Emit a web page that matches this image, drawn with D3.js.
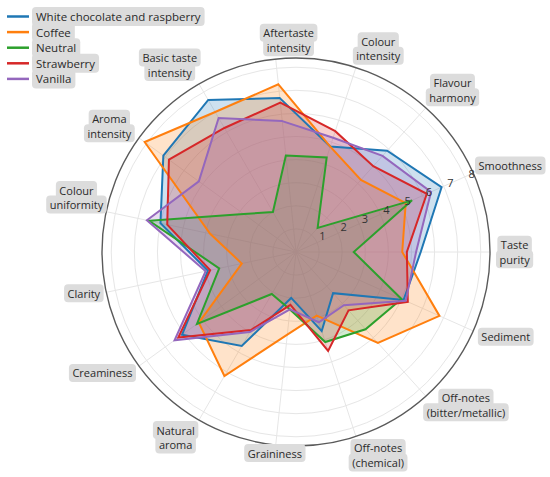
<!DOCTYPE html>
<html><head><meta charset="utf-8">
<script src="https://cdn.jsdelivr.net/npm/d3@7"></script>
<style>body{margin:0;background:#fff} svg{display:block}</style>
</head><body><svg id="c" width="550" height="477"></svg>
<script>
const categories = ["Aftertaste\nintensity","Colour\nintensity","Flavour\nharmony","Smoothness","Taste\npurity","Sediment","Off-notes\n(bitter/metallic)","Off-notes\n(chemical)","Graininess","Natural\naroma","Creaminess","Clarity","Colour\nuniformity","Aroma\nintensity","Basic taste\nintensity"];
const seriesNames = ["White chocolate and raspberry","Coffee","Neutral","Strawberry","Vanilla"];
const whiteChocolateRaspberry = [6.7,4.8,5.9,6.9,5.4,5.1,2.4,3.6,2.0,4.7,6.1,3.9,6.0,7.1,7.6];
const coffee = [7.3,4.8,4.2,5.2,4.6,6.8,5.3,2.9,3.6,6.2,5.2,2.4,3.8,8.1,7.0];
const neutral = [4.2,4.3,1.4,5.5,2.5,5.0,4.5,4.1,2.5,2.1,5.3,3.4,6.5,2.8,2.0];
const strawberry = [6.5,5.5,5.0,6.2,4.8,5.3,3.4,4.5,2.3,3.9,6.3,3.8,5.7,6.8,6.2];
const vanilla = [5.7,5.2,5.6,6.4,5.2,5.2,3.1,3.2,2.5,4.0,6.5,4.0,6.6,5.2,6.7];
const radialTicks = [1,2,3,4,5,6,7,8];
const seriesValues = [whiteChocolateRaspberry, coffee, neutral, strawberry, vanilla];
const colors = ["#1f77b4","#ff7f0e","#2ca02c","#d62728","#9467bd"];
// layout: angular (degrees) and radial (px) nudges of each category label box
const labelShift = [4,4,2,2,0,-2,-6,-4,0,3,4,1,2,-2,-4];
const labelPush = [0,0,0,0,5,2,-9,-2,-5,0,0,0,-2,0,0];

const svg = d3.select("#c");
const cx = 296, cy = 252, R = 194;
const font = "'Open Sans', 'Noto Sans', sans-serif";
const n = categories.length;
const deg = Math.PI/180;
const angle = d3.scaleLinear().domain([0, n]).range([-6*deg, 354*deg]);
const r = d3.scaleLinear().domain([0, 8.4]).range([0, R]);

const g = svg.append("g").attr("transform", `translate(${cx},${cy})`);

g.selectAll("circle.grid").data(radialTicks).join("circle")
  .attr("r", d => r(d)).attr("fill","none").attr("stroke","#e6e6e6").attr("stroke-width",1);
g.selectAll("line.spoke").data(d3.range(n)).join("line")
  .attr("x1",0).attr("y1",0)
  .attr("x2", i => R*Math.sin(angle(i))).attr("y2", i => -R*Math.cos(angle(i)))
  .attr("stroke","#e6e6e6").attr("stroke-width",1);

const line = d3.lineRadial().angle((d,i)=>angle(i)).radius(d=>r(d)).curve(d3.curveLinearClosed);
seriesValues.forEach((vals, k) => {
  g.append("path").attr("d", line(vals)).attr("fill", colors[k]).attr("fill-opacity",0.22).attr("stroke","none");
});
seriesValues.forEach((vals, k) => {
  g.append("path").attr("d", line(vals)).attr("fill","none").attr("stroke", colors[k]).attr("stroke-width",2).attr("stroke-linejoin","miter");
});

g.append("circle").attr("r", R).attr("fill","none").attr("stroke","#5a5a5a").attr("stroke-width",1.4);

const ra = 67.5*deg;
g.selectAll("text.rt").data(radialTicks).join("text")
  .attr("x", d => r(d)*Math.sin(ra) + 5).attr("y", d => -r(d)*Math.cos(ra) - 7.5)
  .attr("text-anchor","middle").attr("dominant-baseline","central")
  .attr("font-family", font).attr("font-size", 11).attr("fill","#333").text(d=>d);

const lineH = 14.5, padX = 3.5, R0 = 195;
categories.forEach((c, i) => {
  const lines = c.split("\n");
  const lg = g.append("g");
  const texts = lines.map(t => lg.append("text").attr("font-family", font).attr("font-size", 11).attr("fill","#2a2a2a").attr("text-anchor","middle").attr("dominant-baseline","central").text(t));
  const widths = texts.map(t => t.node().getComputedTextLength());
  const w = d3.max(widths) + 2*padX;
  const h = (lines.length-1)*lineH + 18;
  const a = angle(i) + labelShift[i]*deg;
  const sup = w/2*Math.abs(Math.sin(a)) + h/2*Math.abs(Math.cos(a));
  const rr = R0 + sup + labelPush[i];
  const x = rr*Math.sin(a), y = -rr*Math.cos(a);
  lines.forEach((t, j) => {
    const ty = y + (j - (lines.length-1)/2)*lineH;
    lg.insert("rect", "text").attr("x", x - widths[j]/2 - padX).attr("y", ty - 9).attr("width", widths[j] + 2*padX).attr("height", 18).attr("rx",4).attr("fill","#dcdcdc");
    texts[j].attr("x", x).attr("y", ty);
  });
});

const leg = svg.append("g").attr("transform","translate(7,16.5)");
seriesNames.forEach((s, k) => {
  const y = k*15.6;
  const t = leg.append("text").attr("x", 29).attr("y", y).attr("dominant-baseline","central")
    .attr("font-family", font).attr("font-size", 11.5).attr("fill","#2a2a2a").text(s);
  const tw = t.node().getComputedTextLength();
  leg.insert("rect","text").attr("x", 25).attr("y", y-9.5).attr("width", tw+8).attr("height", 19).attr("rx",4).attr("fill","#dcdcdc");
  leg.append("line").attr("x1",0).attr("x2",22).attr("y1",y).attr("y2",y).attr("stroke",colors[k]).attr("stroke-width",2.5);
});
</script></body></html>
